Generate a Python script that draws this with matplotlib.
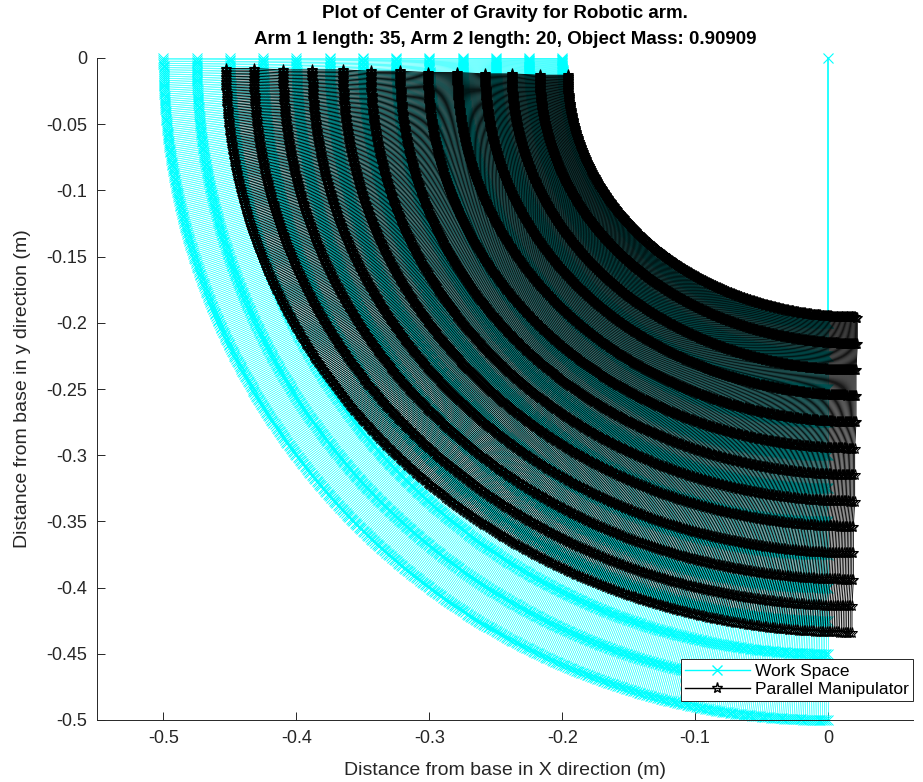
import numpy as np
import matplotlib
matplotlib.use("Agg")
import matplotlib.pyplot as plt
from matplotlib.lines import Line2D

plt.rcParams['font.family'] = ['Liberation Sans', 'DejaVu Sans']
plt.rcParams['axes.unicode_minus'] = False

# work space: quarter arcs (radius in m), joined by radial strokes
cyan_radii = [0.2, 0.225, 0.25, 0.275, 0.3, 0.325, 0.35, 0.375, 0.4, 0.425, 0.45, 0.475, 0.5]
cyan_stem_x = [0.0, 0.0]
cyan_stem_y = [0.0, -0.2]

# parallel manipulator: one curve per arc, outer to inner (end points)
black_top_x = [-0.453, -0.432, -0.410, -0.388, -0.365, -0.344, -0.322, -0.301, -0.279, -0.258, -0.238, -0.217, -0.196]
black_top_y = [-0.008, -0.008, -0.009, -0.009, -0.009, -0.010, -0.010, -0.011, -0.011, -0.012, -0.012, -0.013, -0.013]
black_right_x = [0.018, 0.018, 0.019, 0.019, 0.019, 0.020, 0.020, 0.020, 0.021, 0.021, 0.021, 0.022, 0.022]
black_right_y = [-0.434, -0.414, -0.394, -0.374, -0.354, -0.335, -0.315, -0.295, -0.275, -0.255, -0.236, -0.216, -0.196]

title_lines = ["Plot of Center of Gravity for Robotic arm.",
               "Arm 1 length: 35, Arm 2 length: 20, Object Mass: 0.90909"]
x_ticks = [-0.5, -0.4, -0.3, -0.2, -0.1, 0]
y_ticks = [0, -0.05, -0.1, -0.15, -0.2, -0.25, -0.3, -0.35, -0.4, -0.45, -0.5]

CYAN = '#00ffff'
n_ang = 550
th = np.linspace(0, np.pi / 2, n_ang)

W, H = 923, 782
fig = plt.figure(figsize=(W / 100, H / 100), dpi=100)
ax = fig.add_axes([97 / W, (H - 720) / H, 816 / W, 662 / H])

# cyan work space
r = np.array(cyan_radii)[:, None]
cx = -r * np.cos(th)[None, :]
cy = -r * np.sin(th)[None, :]
ax.plot(cx, cy, '-x', color=CYAN, lw=0.45, ms=7, mew=0.7, clip_on=False)
ax.plot(cyan_stem_x, cyan_stem_y, '-x', color=CYAN, lw=1.2, ms=7, mew=0.8, clip_on=False)

# black manipulator
tx = np.array(black_top_x)[:, None]
ty = np.array(black_top_y)[:, None]
rx = np.array(black_right_x)[:, None]
ry = np.array(black_right_y)[:, None]
bx = rx + (tx - rx) * np.cos(th)[None, :]
by = ty + (ry - ty) * np.sin(th)[None, :]
ax.plot(bx, by, '-*', color='k', lw=0.65, ms=8, mew=0.75, mfc='none', clip_on=False)

ax.set_xlim(-0.55, 0.0639)
ax.set_ylim(-0.5, 0)
ax.set_xticks(x_ticks)
ax.set_xticklabels(['-0.5', '-0.4', '-0.3', '-0.2', '-0.1', '0'])
ax.set_yticks(y_ticks)
ax.set_yticklabels(['0', '-0.05', '-0.1', '-0.15', '-0.2', '-0.25', '-0.3', '-0.35', '-0.4', '-0.45', '-0.5'])
ax.tick_params(direction='in', length=6, width=0.7, colors='#262626', labelsize=13, pad=7)
for s in ['top', 'right']:
    ax.spines[s].set_visible(False)
for s in ['left', 'bottom']:
    ax.spines[s].set_color('#262626')
    ax.spines[s].set_linewidth(0.7)

ax.set_xlabel('Distance from base in X direction (m)', fontsize=14, color='#262626')
ax.xaxis.set_label_coords(0.5, -(762 - 720) / 662)
ax.set_ylabel('Distance from base in y direction (m)', fontsize=14, color='#262626')
ax.yaxis.set_label_coords(-(97 - 31) / 816, 0.5)

title_x = (97 + 408) / W
fig.text(title_x, 1 - 14 / H, title_lines[0], fontsize=13.5, fontweight='bold', ha='center', va='center')
fig.text(title_x, 1 - 40 / H, title_lines[1], fontsize=13.5, fontweight='bold', ha='center', va='center')

handles = [Line2D([], [], color=CYAN, marker='x', lw=1.0, ms=7),
           Line2D([], [], color='k', marker='*', lw=1.0, ms=8, mfc='none')]
leg = ax.legend(handles, ['Work Space', 'Parallel Manipulator'], loc='lower right',
                bbox_to_anchor=(1.0, (720 - 701) / 662), borderaxespad=0, fontsize=12.5,
                frameon=True, fancybox=False, edgecolor='#262626', framealpha=1,
                handlelength=3.7, borderpad=0.25, labelspacing=0.15, handletextpad=0.3)
leg.get_frame().set_linewidth(0.7)

fig.savefig('out.png', dpi=100)
